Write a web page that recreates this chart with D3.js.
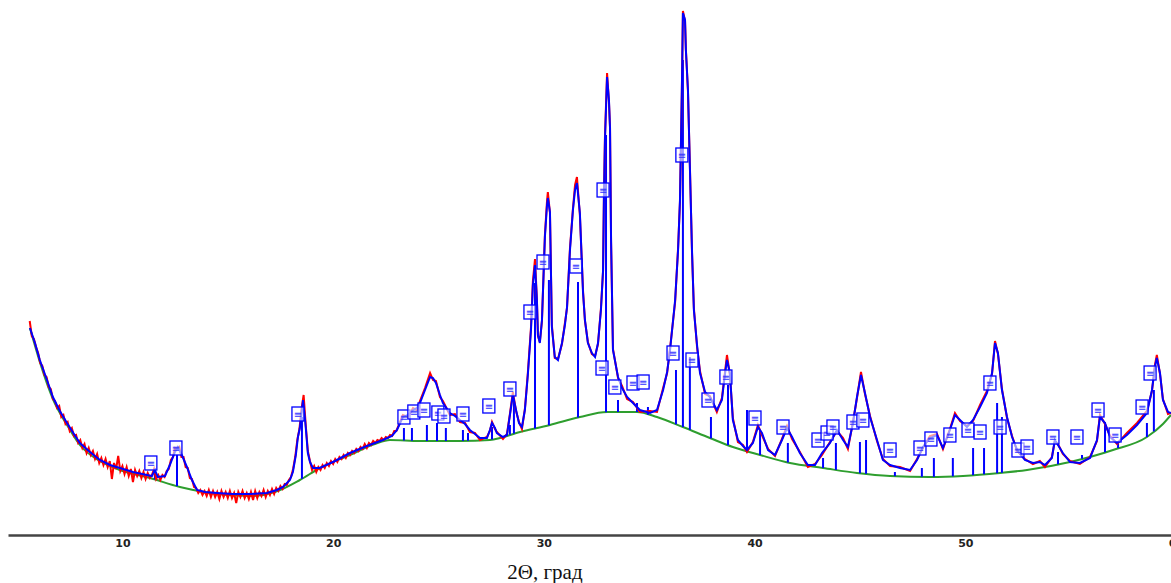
<!DOCTYPE html>
<html>
<head>
<meta charset="utf-8">
<script src="https://cdn.jsdelivr.net/npm/d3@7"></script>
<style>
  body { margin: 0; background: #fff; }
  svg { display: block; }
</style>
</head>
<body>
<div id="chart"></div>
<script>
var svgWidth = 1171;
var svgHeight = 583;

// background (green), [2theta, intensity]
var background = [
  [5.61, 207], [6.08, 173], [6.70, 136], [7.37, 110], [7.98, 90], [8.93, 74],
  [9.88, 65], [11.31, 57], [12.73, 48], [14.15, 42], [16.05, 39], [17.24, 43],
  [18.42, 55], [19.37, 67], [20.80, 80], [21.98, 91], [22.70, 95], [24.12, 94],
  [26.02, 94], [27.44, 95], [28.87, 103], [30.29, 110], [31.71, 118], [33.00, 123],
  [34.42, 123], [35.37, 118], [36.60, 108], [37.88, 97], [38.97, 88], [40.26, 80],
  [41.68, 72], [43.25, 67], [44.86, 62], [46.43, 59], [48.32, 58], [49.89, 59],
  [51.65, 62], [52.93, 65], [54.97, 73], [57.01, 85], [58.62, 98], [59.38, 111],
  [59.76, 120]
];

// calculated profile (blue)
var calc = [
  [5.61, 207], [5.85, 192], [6.08, 175], [6.42, 155], [6.70, 138], [7.03, 124],
  [7.37, 112], [7.70, 101], [7.98, 92], [8.46, 83], [8.93, 75], [9.41, 70],
  [9.88, 67], [10.50, 63], [11.16, 60], [11.40, 59], [11.54, 65], [11.68, 58],
  [12.02, 59], [12.25, 70], [12.49, 83], [12.63, 88], [12.82, 80], [13.06, 68],
  [13.30, 55], [13.54, 45], [13.92, 43], [14.49, 42], [15.24, 41], [16.05, 41],
  [16.86, 42], [17.33, 45], [17.62, 48], [17.95, 55], [18.09, 63], [18.23, 80],
  [18.33, 98], [18.42, 107], [18.52, 125], [18.57, 135], [18.66, 117], [18.71, 105],
  [18.80, 82], [18.90, 73], [19.04, 67], [19.37, 67], [20.09, 74], [20.80, 82],
  [21.60, 89], [22.36, 95], [22.79, 99], [23.03, 105], [23.31, 118], [23.55, 120],
  [23.79, 125], [23.98, 127], [24.12, 132], [24.36, 145], [24.60, 158], [24.74, 157],
  [24.88, 152], [25.07, 140], [25.21, 132], [25.54, 122], [25.78, 119], [26.02, 115],
  [26.26, 111], [26.49, 105], [26.73, 101], [26.97, 97], [27.30, 97], [27.44, 105],
  [27.54, 112], [27.68, 107], [27.77, 102], [28.06, 98], [28.25, 100], [28.39, 120],
  [28.53, 140], [28.68, 125], [28.82, 112], [28.96, 108], [29.10, 125], [29.24, 160],
  [29.39, 205], [29.48, 250], [29.58, 270], [29.67, 235], [29.72, 200], [29.81, 192],
  [29.91, 215], [30.05, 298], [30.15, 330], [30.19, 337], [30.29, 323], [30.38, 208],
  [30.52, 178], [30.67, 175], [30.86, 192], [31.00, 210], [31.10, 228], [31.24, 285],
  [31.38, 325], [31.48, 345], [31.57, 352], [31.71, 322], [31.86, 242], [31.95, 215],
  [32.09, 192], [32.28, 182], [32.43, 178], [32.57, 192], [32.71, 225], [32.81, 265],
  [32.85, 335], [32.90, 395], [33.00, 458], [33.09, 435], [33.14, 407], [33.19, 295],
  [33.28, 185], [33.52, 158], [33.71, 147], [33.95, 138], [34.23, 132], [34.56, 125],
  [35.04, 122], [35.37, 125], [35.66, 145], [35.85, 163], [35.99, 185], [36.23, 235],
  [36.37, 285], [36.46, 335], [36.51, 395], [36.55, 445], [36.60, 522], [36.70, 515],
  [36.74, 485], [36.84, 445], [36.93, 368], [37.03, 285], [37.12, 225], [37.27, 190],
  [37.41, 162], [37.65, 143], [37.88, 138], [38.21, 125], [38.45, 135], [38.59, 160],
  [38.69, 175], [38.83, 162], [38.97, 115], [39.21, 95], [39.45, 89], [39.64, 85],
  [39.92, 92], [40.16, 108], [40.35, 102], [40.64, 85], [40.97, 80], [41.30, 95],
  [41.54, 107], [41.78, 98], [42.15, 82], [42.53, 70], [42.87, 70], [43.20, 82],
  [43.58, 92], [43.91, 105], [44.20, 95], [44.43, 88], [44.67, 112], [44.86, 138],
  [45.05, 160], [45.24, 142], [45.48, 118], [45.81, 95], [46.09, 75], [46.43, 70],
  [46.90, 67], [47.38, 65], [47.71, 75], [47.99, 88], [48.32, 97], [48.66, 100],
  [48.94, 87], [49.27, 105], [49.51, 120], [49.75, 115], [50.08, 108], [50.37, 115],
  [50.70, 128], [51.03, 142], [51.27, 162], [51.41, 192], [51.55, 182], [51.74, 145],
  [51.98, 118], [52.22, 98], [52.46, 85], [52.83, 75], [53.21, 72], [53.54, 73],
  [53.78, 70], [54.11, 77], [54.25, 95], [54.40, 90], [54.63, 82], [54.97, 73],
  [55.44, 72], [55.92, 77], [56.25, 95], [56.39, 118], [56.63, 112], [56.87, 98],
  [57.20, 92], [57.67, 100], [58.15, 110], [58.62, 122], [58.86, 145], [59.00, 168],
  [59.09, 177], [59.24, 162], [59.38, 135], [59.62, 123], [59.76, 122]
];

// observed pattern (red)
var observed = [
  [5.6, 214], [5.7, 199], [5.8, 196], [5.9, 188], [6.0, 182], [6.1, 172], [6.2, 169],
  [6.3, 160], [6.4, 158], [6.5, 148], [6.6, 146], [6.7, 136], [6.8, 134], [6.9, 127],
  [7.0, 129], [7.1, 118], [7.2, 120], [7.3, 111], [7.4, 113], [7.5, 104], [7.6, 107],
  [7.7, 99], [7.8, 100], [7.9, 92], [8.0, 95], [8.1, 87], [8.2, 91], [8.3, 82],
  [8.4, 87], [8.5, 80], [8.6, 84], [8.7, 76], [8.8, 81], [8.9, 72], [9.0, 77],
  [9.1, 70], [9.2, 76], [9.3, 68], [9.4, 74], [9.5, 56], [9.6, 72], [9.7, 66],
  [9.8, 79], [9.9, 64], [10.0, 69], [10.1, 61], [10.2, 68], [10.3, 59], [10.4, 66],
  [10.5, 53], [10.6, 65], [10.7, 59], [10.8, 64], [10.9, 57], [11.0, 63], [11.1, 56],
  [11.2, 62], [11.3, 57], [11.4, 60], [11.5, 66], [11.6, 56], [11.7, 60], [11.8, 55],
  [11.9, 60], [12.0, 58], [12.1, 64], [12.2, 66], [12.3, 75], [12.4, 78], [12.5, 87],
  [12.6, 86], [12.7, 88], [12.8, 78], [12.9, 78], [13.0, 68], [13.1, 67], [13.2, 57],
  [13.3, 56], [13.4, 48], [13.5, 47], [13.6, 42], [13.7, 45], [13.8, 40], [13.9, 44],
  [14.0, 39], [14.1, 45], [14.2, 38], [14.3, 44], [14.4, 38], [14.5, 43], [14.6, 36],
  [14.7, 44], [14.8, 38], [14.9, 43], [15.0, 37], [15.1, 44], [15.2, 37], [15.3, 42],
  [15.4, 32], [15.5, 43], [15.6, 38], [15.7, 44], [15.8, 37], [15.9, 42], [16.0, 36],
  [16.1, 43], [16.2, 35], [16.3, 44], [16.4, 37], [16.5, 43], [16.6, 39], [16.7, 45],
  [16.8, 38], [16.9, 44], [17.0, 40], [17.1, 46], [17.2, 41], [17.3, 47], [17.4, 44],
  [17.5, 49], [17.6, 46], [17.7, 51], [17.8, 50], [17.9, 55], [18.0, 58], [18.1, 66],
  [18.2, 78], [18.3, 95], [18.4, 106], [18.5, 126], [18.6, 140], [18.7, 110], [18.8, 84],
  [18.9, 74], [19.0, 65], [19.1, 69], [19.2, 63], [19.3, 68], [19.4, 65], [19.5, 70],
  [19.6, 67], [19.7, 72], [19.8, 69], [19.9, 74], [20.0, 71], [20.1, 76], [20.2, 73],
  [20.3, 78], [20.4, 76], [20.5, 80], [20.6, 77], [20.7, 82], [20.8, 80], [20.9, 84],
  [21.0, 82], [21.1, 86], [21.2, 84], [21.3, 88], [21.4, 86], [21.5, 91], [21.6, 87],
  [21.7, 92], [21.8, 90], [21.9, 94], [22.0, 92], [22.1, 95], [22.2, 94], [22.3, 97],
  [22.4, 95], [22.5, 98], [22.6, 97], [22.7, 100], [22.8, 99], [22.9, 104], [23.0, 104],
  [23.31, 120], [23.55, 118], [23.79, 127], [23.98, 125], [24.12, 134], [24.36, 147],
  [24.60, 162], [24.74, 155], [24.88, 154], [25.07, 138], [25.21, 134], [25.54, 120],
  [25.78, 121], [26.02, 113], [26.26, 112], [26.49, 103], [26.73, 102], [26.97, 95],
  [27.30, 98], [27.44, 104], [27.54, 113], [27.68, 106], [27.77, 103], [28.06, 96],
  [28.25, 101], [28.39, 121], [28.53, 143], [28.68, 124], [28.82, 113], [28.96, 106],
  [29.10, 126], [29.24, 162], [29.39, 208], [29.48, 254], [29.58, 276], [29.67, 236],
  [29.72, 199], [29.81, 193], [29.91, 214], [30.05, 300], [30.15, 334], [30.19, 343],
  [30.29, 322], [30.38, 210], [30.52, 177], [30.67, 176], [30.86, 191], [31.00, 212],
  [31.10, 227], [31.24, 287], [31.38, 326], [31.48, 350], [31.57, 358], [31.71, 320],
  [31.86, 244], [31.95, 214], [32.09, 193], [32.28, 181], [32.43, 179], [32.57, 191],
  [32.71, 227], [32.81, 264], [32.85, 337], [32.90, 398], [33.00, 462], [33.09, 433],
  [33.14, 408], [33.19, 293], [33.28, 186], [33.52, 157], [33.71, 149], [33.95, 136],
  [34.23, 133], [34.56, 123], [35.04, 124], [35.37, 123], [35.66, 147], [35.85, 162],
  [35.99, 187], [36.23, 233], [36.37, 287], [36.46, 333], [36.51, 396], [36.55, 444],
  [36.60, 524], [36.70, 514], [36.74, 486], [36.84, 443], [36.93, 370], [37.03, 283],
  [37.12, 227], [37.27, 188], [37.41, 164], [37.65, 141], [37.88, 139], [38.21, 123],
  [38.45, 137], [38.59, 162], [38.69, 180], [38.83, 160], [38.97, 117], [39.21, 93],
  [39.45, 90], [39.64, 83], [39.92, 93], [40.16, 110], [40.35, 100], [40.64, 86],
  [40.97, 79], [41.30, 96], [41.54, 109], [41.78, 96], [42.15, 83], [42.53, 68],
  [42.87, 71], [43.20, 80], [43.58, 93], [43.91, 104], [44.20, 97], [44.43, 86],
  [44.67, 113], [44.86, 137], [45.05, 163], [45.24, 141], [45.48, 119], [45.81, 94],
  [46.09, 76], [46.43, 69], [46.90, 68], [47.38, 64], [47.71, 76], [47.99, 87],
  [48.32, 99], [48.66, 101], [48.94, 86], [49.27, 106], [49.51, 122], [49.75, 114],
  [50.08, 109], [50.37, 114], [50.70, 130], [51.03, 144], [51.27, 161], [51.41, 194],
  [51.55, 181], [51.74, 146], [51.98, 117], [52.22, 99], [52.46, 84], [52.83, 76],
  [53.21, 71], [53.54, 74], [53.78, 68], [54.11, 78], [54.25, 94], [54.40, 91],
  [54.63, 81], [54.97, 74], [55.44, 71], [55.92, 78], [56.25, 94], [56.39, 120],
  [56.63, 111], [56.87, 99], [57.20, 91], [57.67, 102], [58.15, 112], [58.62, 124],
  [58.86, 144], [59.00, 170], [59.09, 180], [59.24, 161], [59.38, 136], [59.62, 121],
  [59.76, 122]
];

// reflection positions (vertical bars): 2theta and top intensity
var barTheta = [11.54, 12.59, 18.52, 23.36, 23.74, 24.45, 24.93, 25.35, 26.16, 26.40,
  27.54, 28.39, 28.58, 29.58, 30.24, 31.62, 32.95, 33.52, 34.42, 34.94, 36.27, 36.60,
  36.93, 37.93, 38.74, 39.64, 40.26, 41.58, 43.25, 43.86, 45.00, 45.29, 46.66, 47.94,
  48.51, 49.41, 50.37, 50.89, 51.51, 51.74, 54.40, 55.54, 56.63, 57.25, 58.62, 58.95];
var barTop = [67, 80, 118, 107, 107, 110, 112, 107, 105, 102,
  108, 110, 135, 252, 255, 253, 400, 135, 132, 128, 165, 475,
  178, 118, 150, 125, 105, 92, 77, 92, 93, 95, 63, 67,
  77, 77, 87, 87, 132, 118, 83, 80, 113, 93, 112, 145];

// phase markers (boxes)
var markTheta = [11.35, 12.54, 18.33, 23.36, 23.83, 24.31, 24.97, 25.26, 26.16, 27.39,
  28.39, 29.34, 29.96, 31.52, 32.81, 32.76, 33.37, 34.23, 34.71, 36.13, 36.55, 37.03,
  37.79, 38.64, 40.02, 41.35, 43.01, 43.44, 43.72, 44.67, 45.14, 46.43, 47.85, 48.37,
  49.27, 50.13, 50.70, 51.17, 51.65, 52.50, 52.93, 54.16, 55.30, 56.30, 57.11, 58.39, 58.77];
var markI = [72, 87, 121, 118, 123, 125, 122, 119, 121, 129,
  146, 223, 273, 269, 345, 167, 148, 152, 153, 182, 380, 175,
  135, 158, 117, 108, 95, 102, 108, 113, 115, 85, 87, 96,
  100, 105, 103, 152, 108, 85, 88, 98, 98, 125, 100, 128, 162];

var xTicks = [10, 20, 30, 40, 50, 60];

var svg = d3.select("#chart")
  .append("svg")
  .attr("width", svgWidth)
  .attr("height", svgHeight);

var xScale = d3.scaleLinear()
  .domain([4.57, 60])
  .range([8, 1176]);

var yScale = d3.scaleLinear()
  .domain([0, 525])
  .range([535, 10]);

// background level at any 2theta (piecewise scale built from the green points)
var bgAt = d3.scaleLinear()
  .domain(background.map(d => d[0]))
  .range(background.map(d => d[1]))
  .clamp(true);

var line = d3.line()
  .x(d => xScale(d[0]))
  .y(d => yScale(d[1]));

// background
svg.append("path")
  .datum(background)
  .attr("d", line.curve(d3.curveMonotoneX))
  .attr("fill", "none")
  .attr("stroke", "#2e9e2e")
  .attr("stroke-width", 2);

line.curve(d3.curveLinear);

// reflection bars
var bars = barTheta.map((t, i) => [t, barTop[i]]);
svg.selectAll(".bar")
  .data(bars)
  .enter()
  .append("line")
  .attr("class", "bar")
  .attr("x1", d => xScale(d[0]))
  .attr("x2", d => xScale(d[0]))
  .attr("y1", d => yScale(bgAt(d[0])))
  .attr("y2", d => yScale(d[1]))
  .attr("stroke", "#0000ff")
  .attr("stroke-width", 2);

// observed
svg.append("path")
  .datum(observed)
  .attr("d", line)
  .attr("fill", "none")
  .attr("stroke", "#ff0000")
  .attr("stroke-width", 2);

// calculated
svg.append("path")
  .datum(calc)
  .attr("d", line)
  .attr("fill", "none")
  .attr("stroke", "#0000ff")
  .attr("stroke-width", 2);

// markers
var marks = markTheta.map((t, i) => [t, markI[i]]);
var markG = svg.selectAll(".mark")
  .data(marks)
  .enter()
  .append("g")
  .attr("class", "mark")
  .attr("transform", d => `translate(${xScale(d[0])},${yScale(d[1])})`);

markG.append("rect")
  .attr("x", -6)
  .attr("y", -7)
  .attr("width", 12)
  .attr("height", 14)
  .attr("fill", "rgba(255,255,255,0.6)")
  .attr("stroke", "#0000ff")
  .attr("stroke-width", 1.3);

markG.append("text")
  .attr("text-anchor", "middle")
  .attr("y", 4)
  .attr("font-family", "DejaVu Sans")
  .attr("font-size", "10px")
  .attr("fill", "#3030ff")
  .text("≡");

// x axis
var xAxis = d3.axisBottom(xScale)
  .tickValues(xTicks)
  .tickSize(0)
  .tickPadding(4)
  .tickFormat(d3.format("d"));

var axisG = svg.append("g")
  .attr("transform", "translate(0,535)")
  .call(xAxis);

axisG.select(".domain")
  .attr("stroke", "#444")
  .attr("stroke-width", 2.5);

axisG.selectAll("text")
  .attr("font-family", "DejaVu Sans")
  .attr("font-size", "11px")
  .attr("font-weight", "bold")
  .attr("fill", "#222");

svg.append("text")
  .attr("x", 545)
  .attr("y", 579)
  .attr("text-anchor", "middle")
  .attr("font-family", "Liberation Serif")
  .attr("font-size", "21px")
  .attr("fill", "#111")
  .text("2Θ, град");
</script>
</body>
</html>
